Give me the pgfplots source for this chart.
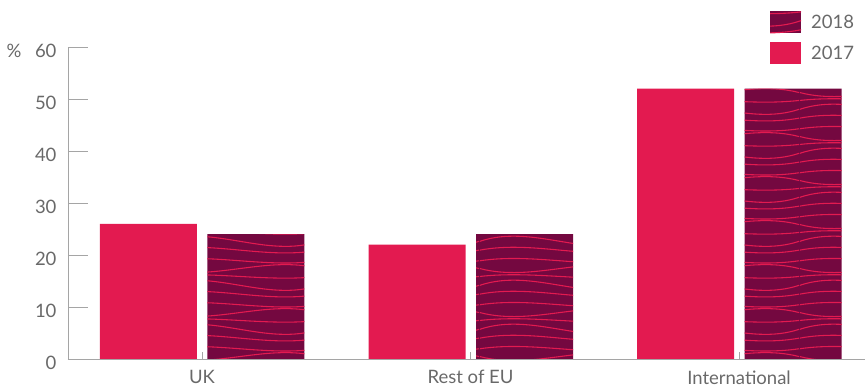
\documentclass[border=0pt]{standalone}
\usepackage{fontspec}
\setmainfont{Lato}
\usepackage{pgfplots}
\pgfplotsset{compat=1.18}
\usetikzlibrary{patterns}
\definecolor{pinkc}{RGB}{227,26,80}
\definecolor{maroonc}{RGB}{116,8,64}
\definecolor{txt}{RGB}{105,105,105}
\definecolor{axc}{RGB}{165,165,165}
\pgfdeclarepatternformonly{waves}{\pgfqpoint{0pt}{0pt}}{\pgfqpoint{160pt}{44pt}}{\pgfqpoint{160pt}{44pt}}{%
  \pgfsetlinewidth{1.1pt}%
  \pgfpathmoveto{\pgfqpoint{0pt}{5pt}}\pgfpathcurveto{\pgfqpoint{53pt}{15pt}}{\pgfqpoint{107pt}{-5pt}}{\pgfqpoint{160pt}{5pt}}%
  \pgfpathmoveto{\pgfqpoint{0pt}{14pt}}\pgfpathcurveto{\pgfqpoint{53pt}{32pt}}{\pgfqpoint{107pt}{-4pt}}{\pgfqpoint{160pt}{14pt}}%
  \pgfpathmoveto{\pgfqpoint{0pt}{23pt}}\pgfpathcurveto{\pgfqpoint{53pt}{29pt}}{\pgfqpoint{107pt}{17pt}}{\pgfqpoint{160pt}{23pt}}%
  \pgfpathmoveto{\pgfqpoint{0pt}{31pt}}\pgfpathcurveto{\pgfqpoint{53pt}{17pt}}{\pgfqpoint{107pt}{45pt}}{\pgfqpoint{160pt}{31pt}}%
  \pgfpathmoveto{\pgfqpoint{0pt}{39pt}}\pgfpathcurveto{\pgfqpoint{53pt}{47pt}}{\pgfqpoint{107pt}{31pt}}{\pgfqpoint{160pt}{39pt}}%
  \pgfusepath{stroke}%
}
\pgfplotsset{swatch/.style={legend image code/.code={\fill[##1] (0pt,-11pt) rectangle (31pt,11pt);}}}
\begin{document}
\begin{tikzpicture}
\begin{axis}[
  scale only axis, width=797pt, height=312pt,
  at={(0pt,0pt)}, anchor=south west,
  xmin=-0.499, xmax=2.469, ymin=0, ymax=60,
  axis x line*=bottom, axis y line*=left,
  axis line style={axc, line width=0.8pt},
  clip=false,
  ytick={0,10,...,60},
  xtick={0,1,2}, xticklabels={UK, Rest of EU, International},
  tick align=inside,
  major tick length=20pt,
  xtick style={/pgfplots/major tick length=7pt},
  tick style={axc, line width=0.8pt},
  /pgf/number format/assume math mode=true,
  ticklabel style={font=\fontsize{18.5}{22}\selectfont, text=txt},
  yticklabel style={xshift=-8pt, yshift=-4pt},
  xticklabel style={yshift=-8pt},
  legend style={at={(rel axis cs:0.881,1.115)}, anchor=north west, draw=none, fill=none,
    inner sep=0pt, outer sep=0pt, row sep=9pt, column sep=8pt, font=\fontsize{18.5}{22}\selectfont, text=txt,
    cells={anchor=west}},
  reverse legend,
]
\addplot[ybar, bar width=97pt, bar shift=-53.5pt, fill=pinkc, draw=none, swatch]
  coordinates {(0,26) (1,22) (2,52)};
\addlegendentry{2017}
\addplot[ybar, bar width=97pt, bar shift=54pt, fill=maroonc, draw=none,
  postaction={pattern=waves, pattern color=pinkc}, swatch]
  coordinates {(0,24) (1,24) (2,52)};
\addlegendentry{2018}
\node[anchor=east, text=txt, font=\fontsize{18.5}{22}\selectfont, xshift=-43pt, yshift=-4pt] at (rel axis cs:0,1) {\%};
\end{axis}
\pgfresetboundingbox
\path[use as bounding box] (-68pt,-28pt) rectangle (797pt,359pt);
\end{tikzpicture}
\end{document}
